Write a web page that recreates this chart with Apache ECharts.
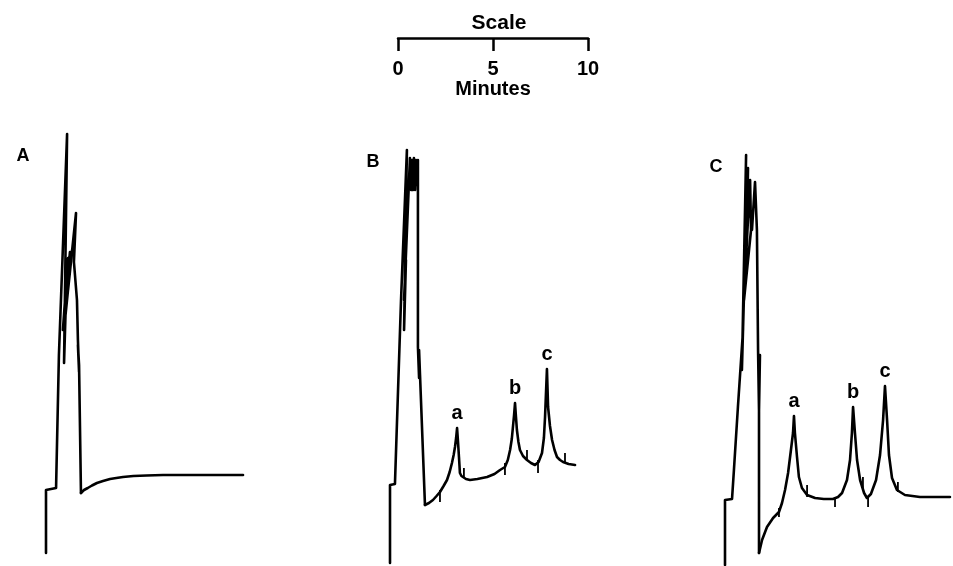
<!DOCTYPE html>
<html>
<head>
<meta charset="utf-8">
<script src="https://cdn.jsdelivr.net/npm/echarts@6/dist/echarts.min.js"></script>
<style>
  html, body { margin: 0; padding: 0; background: #fff; }
  #myChart { width: 953px; height: 566px; }
</style>
</head>
<body>
<div id="myChart"></div>
<script>
// time in minutes from injection, response in arbitrary detector units
// trace A: blank
const spikeAT = [0, 0, 0.53, 0.68, 1.11, 0.95, 1.05, 1.16, 0.89, 1.26, 1.0, 1.37, 1.16, 1.58, 1.47, 1.63, 1.68, 1.74, 1.68, 1.74, 1.84];
const spikeAR = [13, 76, 78, 211, 432, 203, 266, 308, 236, 314, 246, 316, 276, 353, 304, 266, 226, 194, 221, 201, 73];
const tailAT = [1.84, 2.0, 2.2, 2.42, 2.68, 3.0, 3.37, 3.7, 4.05, 4.6, 5.3, 6.16, 7.0, 8.0, 9.2, 10.37];
const tailAR = [73, 76, 78, 80.5, 83, 85, 87, 88, 89, 90, 90.5, 91, 91, 91, 91, 91];

// trace B
const spikeBT = [0, 0, 0.26, 0.58, 0.89, 0.74, 0.84, 0.74, 1.05, 1.11, 1.16, 1.21, 1.26, 1.32, 1.37, 1.42, 1.47, 1.47, 1.53, 1.53, 1.58, 1.84];
const spikeBR = [3, 81, 82, 266, 416, 236, 306, 266, 408, 376, 406, 376, 408, 376, 406, 381, 406, 219, 188, 216, 191, 61];
const tailBT = [1.84, 2.05, 2.26, 2.45, 2.63, 2.82, 3.0, 3.14, 3.26, 3.35, 3.42, 3.48, 3.53, 3.58, 3.63, 3.68, 3.76, 3.84, 4.0, 4.21, 4.6, 5.11, 5.5, 5.79, 6.05, 6.2, 6.32, 6.41, 6.47, 6.53, 6.58, 6.63, 6.68, 6.76, 6.84, 7.0, 7.21, 7.42, 7.63, 7.82, 8.0, 8.1, 8.16, 8.21, 8.26, 8.29, 8.32, 8.42, 8.53, 8.66, 8.79, 8.95, 9.11, 9.4, 9.74];
const tailBR = [61, 63, 66, 70, 74, 80, 86, 94, 103, 111, 119, 128, 138, 124, 109, 93, 90, 88, 87, 86, 87, 89, 92, 96, 99, 106, 116, 127, 139, 151, 163, 149, 136, 124, 116, 110, 106, 103, 101, 104, 113, 128, 149, 173, 197, 178, 159, 140, 126, 116, 109, 106, 104, 102, 101];
const tickBT = [2.63, 3.89, 6.05, 7.21, 7.79, 9.21];
const tickBLo = [64, 89, 91, 106, 93, 103];
const tickBHi = [76, 98, 103, 116, 106, 113];
const peakBT = [3.53, 6.58, 8.26];
const peakBR = [138, 163, 197];

// trace C
const spikeCT = [0, 0, 0.37, 0.47, 0.68, 0.95, 1.11, 0.89, 1.05, 0.95, 1.21, 1.16, 1.32, 1.37, 1.0, 1.26, 1.42, 1.58, 1.68, 1.74, 1.79, 1.84, 1.79, 1.79];
const spikeCR = [1, 66, 67, 96, 159, 236, 411, 196, 306, 246, 398, 336, 386, 336, 266, 366, 336, 384, 336, 216, 156, 211, 166, 13];
const tailCT = [1.79, 1.95, 2.21, 2.53, 2.84, 3.0, 3.16, 3.32, 3.47, 3.58, 3.63, 3.68, 3.79, 3.89, 4.05, 4.32, 4.74, 5.2, 5.68, 5.95, 6.16, 6.42, 6.58, 6.68, 6.74, 6.84, 6.95, 7.11, 7.32, 7.47, 7.68, 7.95, 8.16, 8.32, 8.42, 8.53, 8.63, 8.79, 9.05, 9.47, 10.26, 11.0, 11.84];
const tailCR = [13, 26, 39, 48, 54, 63, 76, 93, 116, 133, 150, 133, 109, 89, 78, 71, 68, 67, 67, 69, 73, 86, 106, 133, 159, 133, 106, 86, 73, 68, 72, 86, 111, 146, 180, 146, 111, 88, 76, 71, 69, 69, 69];
const tickCT = [2.84, 4.32, 5.79, 7.26, 7.53, 9.1];
const tickCLo = [49, 69, 59, 76, 59, 74];
const tickCHi = [58, 81, 68, 89, 69, 84];
const peakCT = [3.63, 6.74, 8.42];
const peakCR = [150, 159, 180];

const peakNames = ['a', 'b', 'c'];
const panelNames = ['A', 'B', 'C'];
const scaleTicks = ['0', '5', '10'];

const ink = '#000';
const font = 'Liberation Sans, Arial, sans-serif';

function zip(t, r) {
  return t.map((x, i) => [x, r[i]]);
}
function tickData(t, lo, hi) {
  let out = [];
  t.forEach((x, i) => {
    out.push([x, lo[i]], [x, hi[i]], '-');
  });
  return out;
}
function trace(idx, data) {
  return {
    type: 'line',
    xAxisIndex: idx,
    yAxisIndex: idx,
    data: data,
    showSymbol: false,
    symbol: 'none',
    clip: false,
    silent: true,
    lineStyle: { color: ink, width: 2.6, cap: 'round', join: 'round' }
  };
}
function tickSeries(idx, data) {
  return {
    type: 'line',
    xAxisIndex: idx,
    yAxisIndex: idx,
    data: data,
    connectNulls: false,
    showSymbol: false,
    symbol: 'none',
    clip: false,
    silent: true,
    lineStyle: { color: ink, width: 1.8 }
  };
}
function peakLabels(idx, t, r) {
  return {
    type: 'scatter',
    xAxisIndex: idx,
    yAxisIndex: idx,
    data: t.map((x, i) => ({ value: [x, r[i]], name: peakNames[i] })),
    symbolSize: 0,
    clip: false,
    silent: true,
    itemStyle: { opacity: 1 },
    label: {
      show: true,
      position: 'top',
      distance: 5,
      formatter: '{b}',
      color: ink,
      opacity: 1,
      fontFamily: font,
      fontWeight: 'bold',
      fontSize: 20
    }
  };
}

const panelLeft = [46, 390, 725];
const pxPerMin = 19;

let chart = echarts.init(document.getElementById('myChart'));

let grids = panelLeft.map(left => ({ left: left, top: 130, width: 12 * pxPerMin, height: 436 }));
grids.push({ left: 398, top: 37, width: 10 * pxPerMin, height: 1 });

let xAxes = panelLeft.map((l, i) => ({ gridIndex: i, type: 'value', min: 0, max: 12, show: false }));
xAxes.push({
  gridIndex: 3,
  type: 'value',
  min: 0,
  max: 10,
  interval: 5,
  position: 'bottom',
  name: 'Minutes',
  nameLocation: 'middle',
  nameGap: 40,
  nameTextStyle: { color: ink, fontFamily: font, fontWeight: 'bold', fontSize: 20 },
  axisLine: { show: true, lineStyle: { color: ink, width: 2.5 } },
  axisTick: { show: true, length: 13, lineStyle: { color: ink, width: 2.5 } },
  axisLabel: {
    margin: 21,
    color: ink,
    fontFamily: font,
    fontWeight: 'bold',
    fontSize: 20,
    formatter: v => scaleTicks[v / 5]
  },
  splitLine: { show: false }
});

let yAxes = panelLeft.map((l, i) => ({ gridIndex: i, type: 'value', min: 0, max: 436, show: false }));
yAxes.push({ gridIndex: 3, type: 'value', min: 0, max: 1, show: false });

let titles = [
  { text: 'Scale', left: 494, top: 8, textAlign: 'center',
    textStyle: { color: ink, fontFamily: font, fontWeight: 'bold', fontSize: 21 } }
];
const panelLabelPos = [[18, 152], [368, 158], [711, 163]];
panelNames.forEach((n, i) => {
  titles.push({
    text: n,
    left: panelLabelPos[i][0],
    top: panelLabelPos[i][1] - 10,
    textAlign: 'center',
    textStyle: { color: ink, fontFamily: font, fontWeight: 'bold', fontSize: 18 }
  });
});

let options = {
  backgroundColor: '#fff',
  animation: false,
  title: titles,
  grid: grids,
  xAxis: xAxes,
  yAxis: yAxes,
  series: [
    trace(0, zip(spikeAT, spikeAR)),
    trace(0, zip(tailAT, tailAR)),
    trace(1, zip(spikeBT, spikeBR)),
    trace(1, zip(tailBT, tailBR)),
    tickSeries(1, tickData(tickBT, tickBLo, tickBHi)),
    peakLabels(1, peakBT, peakBR),
    trace(2, zip(spikeCT, spikeCR)),
    trace(2, zip(tailCT, tailCR)),
    tickSeries(2, tickData(tickCT, tickCLo, tickCHi)),
    peakLabels(2, peakCT, peakCR)
  ]
};
chart.setOption(options);
</script>
</body>
</html>
